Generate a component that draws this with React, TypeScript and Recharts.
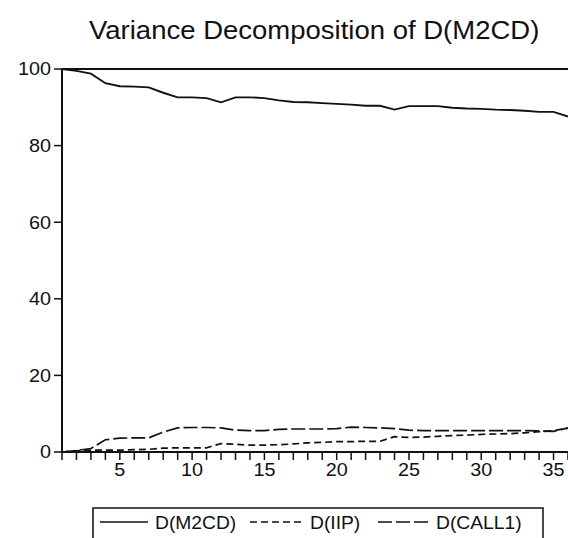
import React from "react";
import { LineChart, Line, XAxis, YAxis, ReferenceLine, Legend } from "recharts";

// forecast horizon (periods) and the decomposition shares
const periods = [
  1, 2, 3, 4, 5, 6, 7, 8, 9, 10, 11, 12, 13, 14, 15, 16, 17, 18,
  19, 20, 21, 22, 23, 24, 25, 26, 27, 28, 29, 30, 31, 32, 33, 34, 35, 36,
];
const m2cd = [
  100, 99.5, 98.8, 96.3, 95.5, 95.4, 95.2, 93.8, 92.6, 92.6, 92.4, 91.3,
  92.6, 92.6, 92.4, 91.8, 91.4, 91.3, 91.1, 90.9, 90.7, 90.4, 90.4, 89.4,
  90.3, 90.3, 90.3, 89.9, 89.7, 89.6, 89.4, 89.3, 89.1, 88.8, 88.8, 87.6,
];
const iip = [
  0, 0.3, 0.5, 0.5, 0.5, 0.6, 0.7, 1.0, 1.1, 1.1, 1.1, 2.2,
  2.0, 1.8, 1.8, 1.9, 2.1, 2.4, 2.5, 2.7, 2.7, 2.8, 2.8, 4.0,
  3.8, 3.9, 4.1, 4.3, 4.4, 4.6, 4.7, 4.8, 5.0, 5.3, 5.6, 6.2,
];
const call1 = [
  0, 0.4, 0.9, 3.2, 3.6, 3.7, 3.7, 5.2, 6.3, 6.4, 6.4, 6.3,
  5.7, 5.6, 5.6, 5.9, 6.0, 6.0, 6.0, 6.1, 6.5, 6.4, 6.3, 6.1,
  5.7, 5.6, 5.6, 5.6, 5.6, 5.6, 5.6, 5.6, 5.6, 5.5, 5.4, 6.3,
];
const yTicks = [0, 20, 40, 60, 80, 100];
const xLabels = [5, 10, 15, 20, 25, 30, 35];
const seriesNames = ["D(M2CD)", "D(IIP)", "D(CALL1)"];
const title = "Variance Decomposition of D(M2CD)";

const data = periods.map((p, i) => ({
  period: p,
  m2cd: m2cd[i],
  iip: iip[i],
  call1: call1[i],
}));

const FONT = "Arial, 'Liberation Sans', sans-serif";
const INK = "#111";

// EViews output looks a bit stretched sideways, so the labels get a scaleX
function XTick({ x, y, payload }: any) {
  if (!xLabels.includes(payload.value)) return null;
  return (
    <text
      transform={`translate(${x},${y}) scale(1.1,1)`}
      textAnchor="middle"
      dy="0.71em"
      fontSize={18}
      fontFamily={FONT}
      fill={INK}
    >
      {payload.value}
    </text>
  );
}

function YTick({ x, y, payload }: any) {
  return (
    <text
      transform={`translate(${x},${y}) scale(1.1,1)`}
      textAnchor="end"
      dy="0.355em"
      fontSize={18}
      fontFamily={FONT}
      fill={INK}
    >
      {payload.value}
    </text>
  );
}

const legendItems = [
  { name: seriesNames[0], dash: undefined, x1: 8, x2: 56, tx: 63 },
  { name: seriesNames[1], dash: "7 4", x1: 158, x2: 213, tx: 218 },
  { name: seriesNames[2], dash: "14 4", x1: 286, x2: 338, tx: 344 },
];

function LegendBox() {
  return (
    <svg width={452} height={40} style={{ display: "block" }}>
      <rect x={1} y={1} width={450} height={50} fill="#fff" stroke={INK} strokeWidth={1.5} />
      {legendItems.map((it) => (
        <g key={it.name}>
          <line
            x1={it.x1}
            x2={it.x2}
            y1={15}
            y2={15}
            stroke={INK}
            strokeWidth={1.5}
            strokeDasharray={it.dash}
          />
          <text
            transform={`translate(${it.tx},22) scale(1.07,1)`}
            fontSize={18}
            fontFamily={FONT}
            fill={INK}
          >
            {it.name}
          </text>
        </g>
      ))}
    </svg>
  );
}

export default function App() {
  return (
    <div
      style={{
        position: "absolute",
        left: 0,
        top: 0,
        width: 568,
        height: 538,
        overflow: "hidden",
        background: "#fff",
      }}
    >
      <div
        style={{
          position: "absolute",
          left: 89,
          top: 18,
          fontFamily: FONT,
          fontSize: 25,
          lineHeight: "25px",
          color: INK,
          whiteSpace: "nowrap",
          transform: "scale(1.1,1)",
          transformOrigin: "left top",
        }}
      >
        {title}
      </div>
      <LineChart
        width={568}
        height={538}
        data={data}
        margin={{ top: 69, right: 0, left: 0, bottom: 16 }}
      >
        <XAxis
          dataKey="period"
          type="number"
          domain={[1, 36]}
          ticks={periods}
          interval={0}
          height={30}
          tickSize={8}
          tickMargin={3}
          tick={<XTick />}
          axisLine={{ stroke: INK, strokeWidth: 2 }}
          tickLine={{ stroke: INK, strokeWidth: 1.5 }}
        />
        <YAxis
          type="number"
          domain={[0, 100]}
          ticks={yTicks}
          width={62}
          tickSize={8}
          tickMargin={3}
          tick={<YTick />}
          axisLine={{ stroke: INK, strokeWidth: 2 }}
          tickLine={{ stroke: INK, strokeWidth: 1.5 }}
        />
        <ReferenceLine y={100} stroke={INK} strokeWidth={2} />
        <Line
          type="linear"
          dataKey="m2cd"
          name={seriesNames[0]}
          stroke={INK}
          strokeWidth={1.9}
          dot={false}
          isAnimationActive={false}
        />
        <Line
          type="linear"
          dataKey="iip"
          name={seriesNames[1]}
          stroke={INK}
          strokeWidth={1.7}
          strokeDasharray="7 4"
          dot={false}
          isAnimationActive={false}
        />
        <Line
          type="linear"
          dataKey="call1"
          name={seriesNames[2]}
          stroke={INK}
          strokeWidth={1.7}
          strokeDasharray="14 4"
          dot={false}
          isAnimationActive={false}
        />
        <Legend
          verticalAlign="bottom"
          content={() => <LegendBox />}
          wrapperStyle={{ left: 92, top: 507, bottom: "auto", width: 452, height: 40 }}
        />
      </LineChart>
    </div>
  );
}
